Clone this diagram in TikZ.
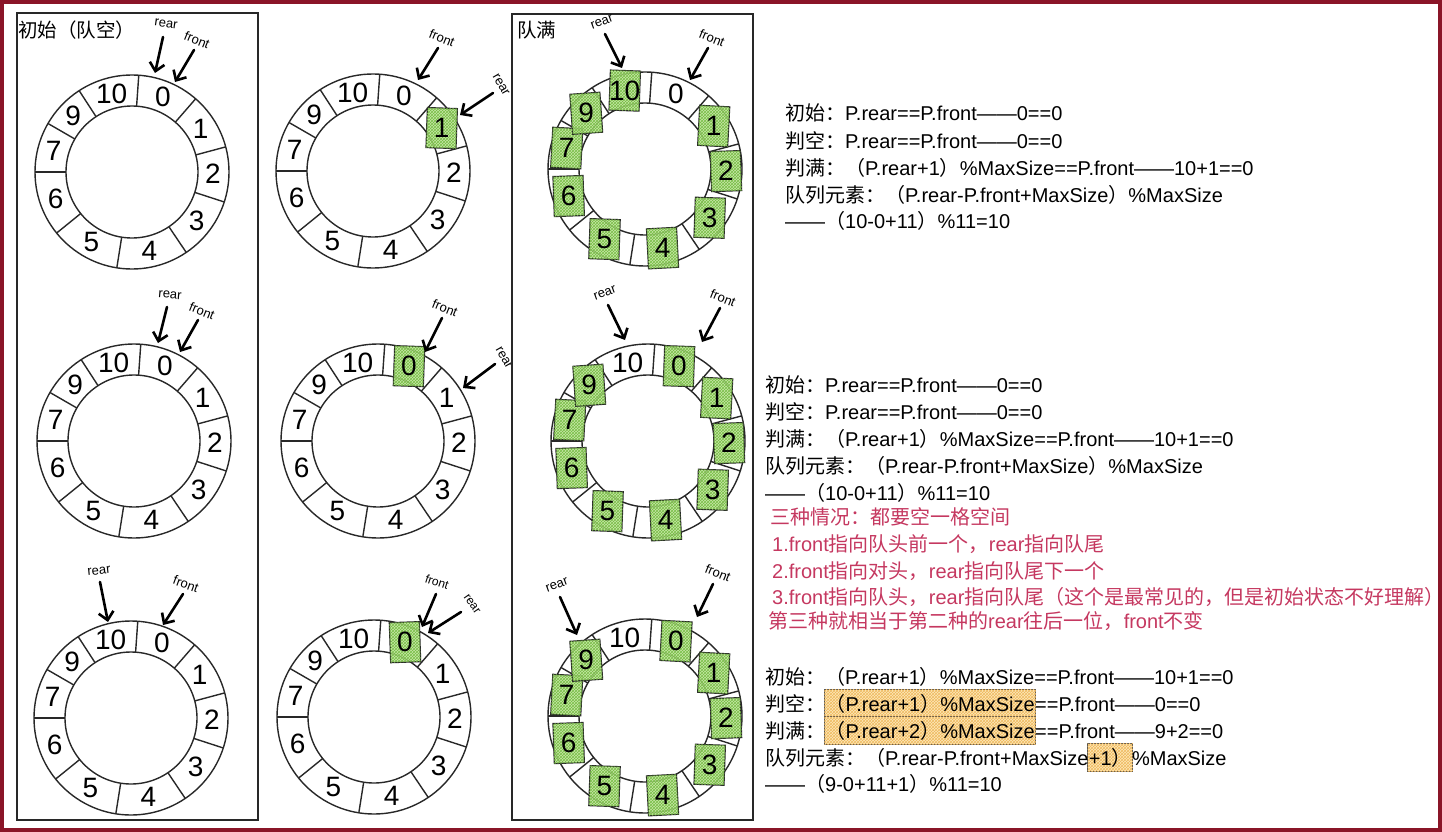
\documentclass[tikz,border=0pt]{standalone}
\usepackage{fontspec}
\setmainfont{Liberation Sans}
\newfontfamily\cjk{Noto Sans CJK SC}
\usetikzlibrary{arrows.meta,patterns,backgrounds,fit}
\definecolor{framered}{RGB}{138,21,40}
\definecolor{redtxt}{RGB}{197,56,96}
\definecolor{gfill}{RGB}{185,226,145}
\definecolor{ghatch}{RGB}{120,190,70}
\definecolor{ofill}{RGB}{253,232,185}
\definecolor{ohatch}{RGB}{240,185,95}
\definecolor{ink}{RGB}{40,40,40}
\newcommand\cj[1]{{\cjk #1}}
\tikzset{
  ringline/.style={draw=ink, line width=1.4pt},
  colframe/.style={draw=ink, line width=1.3pt},
  digit/.style={font=\fontsize{28}{28}\selectfont, inner sep=0pt},
  gbox/.style={draw=ink, line width=1.2pt, fill=gfill, fill opacity=0.8,
    postaction={pattern=crosshatch, pattern color=ghatch},
    minimum width=30pt, minimum height=40pt, inner sep=0pt},
  hlbox/.style={draw=ink!80, line width=1pt, fill=ofill,
    postaction={pattern=crosshatch, pattern color=ohatch},
    inner xsep=1pt, inner ysep=4.5pt},
  ptr/.style={font=\fontsize{13}{13}\selectfont, inner sep=0pt},
  smallptr/.style={font=\fontsize{12}{12}\selectfont, inner sep=0pt},
  arr/.style={line width=2.6pt, line cap=round, -{Straight Barb[length=8pt,width=15pt]}},
  txt/.style={font=\fontsize{20}{20}\selectfont, anchor=base west, inner sep=0pt},
  redline/.style={txt, text=redtxt},
  hdr/.style={font=\cjk\fontsize{19.5}{19.5}\selectfont, anchor=west, inner sep=0pt}
}
\newcommand\ringbase[3]{%
  \begin{scope}[shift={(#2,#3)}]
    \coordinate (#1) at (0,0);
    \draw[ringline] (#1) circle[radius=97];
    \draw[ringline] (#1) circle[radius=66];
    \foreach \a in {86,49,15,-18,-56,-99,-141,180,150,123}
      \draw[ringline] (\a:66) -- (\a:97);
    \foreach \a/\lab in {67.5/0,32/1,-1.5/2,-37/3,-77.5/4,-120/5,-160.5/6,165/7,136.5/9,104.5/10}
      \coordinate (#1-p\lab) at (\a:81);
  \end{scope}}
\newcommand\ringlabels[1]{%
  \foreach \lab in {0,1,2,3,4,5,6,7,9,10}
    \node[digit] (#1-\lab) at (#1-p\lab) {\lab};}
\newcommand\pointer[9]{%
  \node[ptr, rotate=#5] (#1) at (#3,-#4) {#2};
  \coordinate (#1-s) at (#6,-#7);
  \coordinate (#1-e) at (#8,-#9);
  \draw[arr] (#1-s) -- (#1-e);}
\begin{document}
\begin{tikzpicture}[x=1pt,y=1pt]
\useasboundingbox (0,0) rectangle (1442,-832);
\draw[draw=framered, line width=4pt] (2,-2) rectangle (1440,-830);

% column 1
\draw[colframe] (17,-13) rectangle (258,-820);
\node[hdr] (h1) at (18,-30) {初始（队空）};
\ringbase{r11}{132}{-172}\ringlabels{r11}
\ringbase{r12}{134}{-441}\ringlabels{r12}
\ringbase{r13}{131}{-718}\ringlabels{r13}
\pointer{r11rear}{rear}{166}{24}{-8}{163}{37}{155}{73}
\pointer{r11front}{front}{197}{40}{-22}{194}{50}{175}{82}
\pointer{r12rear}{rear}{170}{295}{-5}{167}{307}{158}{343}
\pointer{r12front}{front}{202}{311}{-22}{198}{320}{180}{352}
\pointer{r13rear}{rear}{99}{571}{6}{100}{582}{108}{622}
\pointer{r13front}{front}{186}{584}{-20}{183}{594}{163}{625}

% column 2
\ringbase{r21}{373}{-171}
\node[gbox, rotate=-2] (r21-b1) at (r21-p1) {};
\ringlabels{r21}
\ringbase{r22}{378}{-441}
\node[gbox, rotate=-2] (r22-b0) at (r22-p0) {};
\ringlabels{r22}
\ringbase{r23}{374}{-717}
\node[gbox, rotate=2] (r23-b0) at (r23-p0) {};
\ringlabels{r23}
\pointer{r21front}{front}{442}{38}{-22}{438}{48}{418}{80}
\pointer{r21rear}{rear}{501}{85}{-60}{493}{93}{460}{115}
\pointer{r22front}{front}{445}{308}{-22}{442}{318}{425}{352}
\pointer{r22rear}{rear}{504}{358}{-60}{495}{364}{463}{388}
\node[smallptr, rotate=-18] (r23front) at (437,-582) {front};
\coordinate (r23front-s) at (436,-594);
\coordinate (r23front-e) at (422,-627);
\draw[arr] (r23front-s) -- (r23front-e);
\node[smallptr, rotate=-55] (r23rear) at (472,-604) {rear};
\coordinate (r23rear-s) at (461,-612);
\coordinate (r23rear-e) at (428,-633);
\draw[arr] (r23rear-s) -- (r23rear-e);

% column 3
\filldraw[colframe, fill=white] (512,-14) rectangle (753,-820);
\node[hdr] (h3) at (517,-30) {队满};
\ringbase{r31}{645}{-169}
\foreach \lab/\r in {1/-3,2/2,3/-2,4/3,5/-2,6/2,7/-3,9/4,10/-2}
  \node[gbox, rotate=\r] (r31-b\lab) at (r31-p\lab) {};
\ringlabels{r31}
\ringbase{r32}{648}{-441}
\foreach \lab/\r in {0/-2,1/-3,2/2,3/-2,4/3,5/-2,6/2,7/-3,9/4}
  \node[gbox, rotate=\r] (r32-b\lab) at (r32-p\lab) {};
\ringlabels{r32}
\ringbase{r33}{645}{-716}
\foreach \lab/\r in {0/-3,1/-3,2/2,3/-2,4/3,5/-2,6/2,7/-3,9/4}
  \node[gbox, rotate=\r] (r33-b\lab) at (r33-p\lab) {};
\ringlabels{r33}
\pointer{r31rear}{rear}{602}{22}{20}{605}{34}{622}{68}
\pointer{r31front}{front}{712}{38}{-22}{708}{48}{690}{80}
\pointer{r32rear}{rear}{605}{293}{20}{608}{305}{625}{340}
\pointer{r32front}{front}{723}{298}{-22}{720}{308}{702}{342}
\pointer{r33rear}{rear}{557}{585}{20}{560}{597}{577}{635}
\pointer{r33front}{front}{718}{573}{-22}{713}{584}{697}{617}

% text block 1
\node[txt] (a1) at (785,-121) {\cj{初始：}P.rear==P.front——0==0};
\node[txt] (a2) at (785,-148) {\cj{判空：}P.rear==P.front——0==0};
\node[txt] (a3) at (785,-175) {\cj{判满：（}P.rear+1\cj{）}\%MaxSize==P.front——10+1==0};
\node[txt] (a4) at (785,-202) {\cj{队列元素：（}P.rear-P.front+MaxSize\cj{）}\%MaxSize};
\node[txt] (a5) at (785,-228) {——\cj{（}10-0+11\cj{）}\%11=10};

% text block 2
\node[txt] (b1) at (765,-392) {\cj{初始：}P.rear==P.front——0==0};
\node[txt] (b2) at (765,-419) {\cj{判空：}P.rear==P.front——0==0};
\node[txt] (b3) at (765,-446) {\cj{判满：（}P.rear+1\cj{）}\%MaxSize==P.front——10+1==0};
\node[txt] (b4) at (765,-473) {\cj{队列元素：（}P.rear-P.front+MaxSize\cj{）}\%MaxSize};
\node[txt] (b5) at (765,-500) {——\cj{（}10-0+11\cj{）}\%11=10};
\node[redline] (b6) at (770,-524) {\cj{三种情况：都要空一格空间}};
\node[redline] (b7) at (772,-551) {1.front\cj{指向队头前一个，}rear\cj{指向队尾}};
\node[redline] (b8) at (772,-578) {2.front\cj{指向对头，}rear\cj{指向队尾下一个}};
\node[redline] (b9) at (772,-604) {3.front\cj{指向队头，}rear\cj{指向队尾（这个是最常见的，但是初始状态不好理解）}};
\node[redline] (b10) at (768,-628) {\cj{第三种就相当于第二种的}rear\cj{往后一位，}front\cj{不变}};

% text block 3
\node[txt] (c1) at (765,-684) {\cj{初始：（}P.rear+1\cj{）}\%MaxSize==P.front——10+1==0};
\node[txt] (c2a) at (765,-711) {\cj{判空：}};
\node[txt] (c2b) at (c2a.base east) {\cj{（}P.rear+1\cj{）}\%MaxSize};
\node[txt] (c2c) at (c2b.base east) {==P.front——0==0};
\node[txt] (c3a) at (765,-738) {\cj{判满：}};
\node[txt] (c3b) at (c3a.base east) {\cj{（}P.rear+2\cj{）}\%MaxSize};
\node[txt] (c3c) at (c3b.base east) {==P.front——9+2==0};
\node[txt] (c4a) at (765,-765) {\cj{队列元素：（}P.rear-P.front+MaxSize};
\node[txt] (c4b) at (c4a.base east) {+1\cj{）}};
\node[txt] (c4c) at (c4b.base east) {\%MaxSize};
\node[txt] (c5) at (765,-791) {——\cj{（}9-0+11+1\cj{）}\%11=10};
\begin{scope}[on background layer]
  \node[hlbox, fit=(c2b)] (hl1) {};
  \node[hlbox, fit=(c3b)] (hl2) {};
  \node[hlbox, fit=(c4b)] (hl3) {};
\end{scope}
\end{tikzpicture}
\end{document}
